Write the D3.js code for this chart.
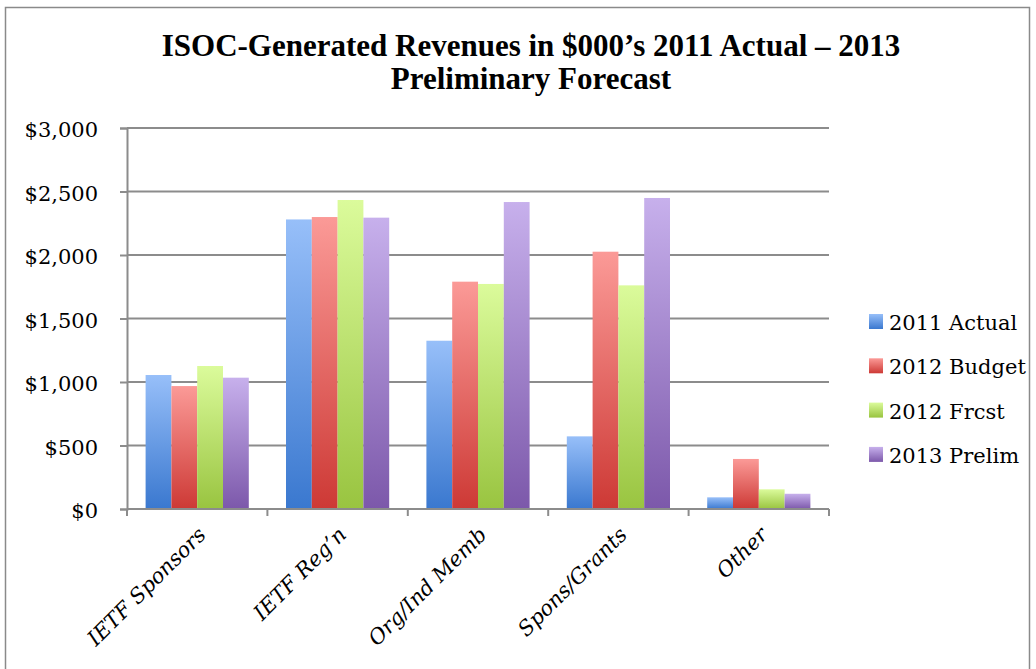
<!DOCTYPE html>
<html><head><meta charset="utf-8">
<script src="https://cdn.jsdelivr.net/npm/d3@7"></script>
<style>body{margin:0;background:#fff}</style>
</head><body>
<svg id="chart" width="1036" height="669"></svg>
<script>
const categories = ["IETF Sponsors", "IETF Reg\u2019n", "Org/Ind Memb", "Spons/Grants", "Other"];
const seriesNames = ["2011 Actual", "2012 Budget", "2012 Frcst", "2013 Prelim"];
const actual2011 = [1055, 2280, 1325, 572, 92];
const budget2012 = [968, 2299, 1790, 2026, 394];
const frcst2012 = [1126, 2433, 1772, 1761, 155];
const prelim2013 = [1034, 2294, 2417, 2449, 120];
const yTicks = [0, 500, 1000, 1500, 2000, 2500, 3000];
const colorsTop = ["#97bff9", "#fb9a97", "#dbfb9b", "#c7b0ec"];
const colorsBottom = ["#3a78cf", "#cd3935", "#99c440", "#7c58aa"];

const values = [actual2011, budget2012, frcst2012, prelim2013];
const svg = d3.select("#chart");
const serif = "'DejaVu Serif', 'Liberation Serif', serif";
const titleFont = "'Liberation Serif', serif";

// outer frame
svg.append("rect").attr("x", 5.5).attr("y", 7.5).attr("width", 1024).attr("height", 700)
  .attr("fill", "none").attr("stroke", "#8a8a8a").attr("stroke-width", 1.5);

const defs = svg.append("defs");
seriesNames.forEach((s, i) => {
  const g = defs.append("linearGradient").attr("id", "g" + i)
    .attr("x1", 0).attr("y1", 0).attr("x2", 0).attr("y2", 1);
  g.append("stop").attr("offset", "0%").attr("stop-color", colorsTop[i]);
  g.append("stop").attr("offset", "100%").attr("stop-color", colorsBottom[i]);
});

const pLeft = 127, pRight = 829, pTop = 128, pBottom = 509;
const x0 = d3.scaleBand().domain(categories).range([pLeft, pRight]).paddingInner(0).paddingOuter(0);
const y = d3.scaleLinear().domain([0, 3000]).range([pBottom, pTop]);
const groupW = x0.bandwidth() * 0.735;
const x1 = d3.scaleBand().domain(seriesNames).range([0, groupW]);

// title
const titleLines = ["ISOC-Generated Revenues in $000\u2019s 2011 Actual \u2013 2013", "Preliminary Forecast"];
svg.append("g").selectAll("text").data(titleLines).join("text")
  .attr("text-anchor", "middle").attr("x", 531).attr("y", (d, i) => 56 + i * 33)
  .attr("font-family", titleFont).attr("font-weight", "bold").attr("font-size", 31).attr("fill", "#000")
  .text(d => d);

// gridlines
svg.append("g").selectAll("line").data(yTicks.slice(1)).join("line")
  .attr("x1", pLeft).attr("x2", pRight).attr("y1", d => y(d)).attr("y2", d => y(d))
  .attr("stroke", "#8c8c8c").attr("stroke-width", 2);

// y axis
const yAxis = svg.append("g").attr("transform", `translate(${pLeft},0)`)
  .call(d3.axisLeft(y).tickValues(yTicks).tickSize(7).tickFormat(d => "$" + d3.format(",")(d)));
yAxis.select(".domain").attr("stroke", "#8c8c8c").attr("stroke-width", 2);
yAxis.selectAll(".tick line").attr("stroke", "#8c8c8c").attr("stroke-width", 2);
yAxis.selectAll("text").attr("font-family", serif).attr("font-size", 21).attr("fill", "#000")
  .attr("x", -29).attr("dy", "0.42em");

// bars
const groups = svg.append("g").selectAll("g").data(categories).join("g")
  .attr("transform", d => `translate(${x0(d) + (x0.bandwidth() - groupW) / 2},0)`);
groups.selectAll("rect").data((c, ci) => seriesNames.map((s, si) => ({s, si, v: values[si][ci]}))).join("rect")
  .attr("x", d => x1(d.s)).attr("width", x1.bandwidth())
  .attr("y", d => y(d.v)).attr("height", d => y(0) - y(d.v))
  .attr("fill", d => `url(#g${d.si})`);

// x axis
const xAxis = svg.append("g").attr("transform", `translate(0,${pBottom})`);
xAxis.append("line").attr("x1", pLeft).attr("x2", pRight).attr("stroke", "#8c8c8c").attr("stroke-width", 2);
const bounds = categories.map(c => x0(c)).concat([pRight]);
xAxis.selectAll("line.t").data(bounds).join("line").attr("class", "t")
  .attr("x1", d => d).attr("x2", d => d).attr("y1", 0).attr("y2", 7)
  .attr("stroke", "#8c8c8c").attr("stroke-width", 2);
xAxis.selectAll("text").data(categories).join("text")
  .attr("font-family", serif).attr("font-style", "italic").attr("font-size", 21).attr("fill", "#000")
  .attr("text-anchor", "end")
  .attr("transform", d => `translate(${x0(d) + x0.bandwidth() / 2 + 10},${27}) rotate(-45)`)
  .text(d => d);

// legend
const legend = svg.append("g").selectAll("g").data(seriesNames).join("g")
  .attr("transform", (d, i) => `translate(869,${314 + i * 44.3})`);
legend.append("rect").attr("width", 14).attr("height", 15).attr("fill", (d, i) => `url(#g${i})`);
legend.append("text").attr("x", 20).attr("y", 16).attr("font-family", serif).attr("font-size", 21)
  .attr("fill", "#000").text(d => d);
</script>
</body></html>
